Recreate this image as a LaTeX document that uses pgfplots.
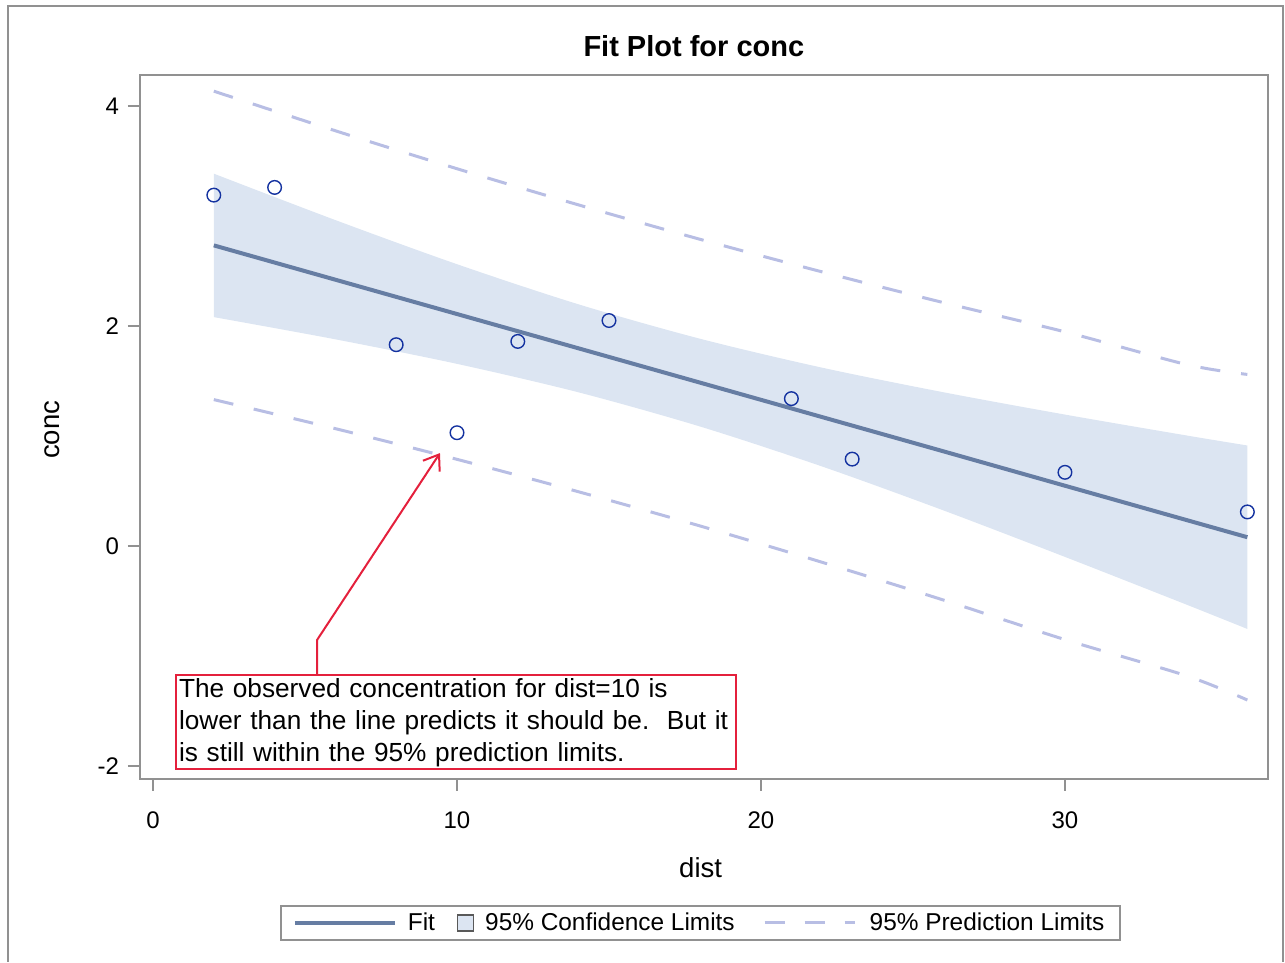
\documentclass[border=0pt]{standalone}
\usepackage{fontspec}
\setmainfont{Liberation Sans}
\usepackage{pgfplots}
\usepackage{pgfplotstable}
\pgfplotsset{compat=1.18}
\usepgfplotslibrary{fillbetween}
\usetikzlibrary{arrows.meta}

\definecolor{fitline}{RGB}{102,125,163}
\definecolor{cifill}{RGB}{220,229,242}
\definecolor{pidash}{RGB}{184,190,228}
\definecolor{obsmark}{RGB}{20,50,160}
\definecolor{note}{RGB}{228,32,60}
\definecolor{framegray}{RGB}{145,145,145}

% fit, confidence and prediction limits
\pgfplotstableread{
x  fit   cil    ciu   pil    piu
2  2.733 2.081  3.385 1.331  4.135
6  2.421 1.879  2.963 1.067  3.775
10 2.109 1.656  2.562 0.788  3.430
14 1.797 1.397  2.197 0.493  3.101
18 1.485 1.086  1.884 0.182  2.788
22 1.173 0.724  1.622 -0.147 2.493
26 0.861 0.324  1.398 -0.491 2.213
30 0.548 -0.099 1.195 -0.851 1.947
34 0.236 -0.533 1.005 -1.180 1.650
36 0.080 -0.754 0.914 -1.400 1.560
}\bands

\pgfplotstableread{
dist conc
2  3.19
4  3.26
8  1.83
10 1.03
12 1.86
15 2.05
21 1.34
23 0.79
30 0.67
36 0.31
}\obs

\begin{document}
\begin{tikzpicture}[x=1pt,y=1pt]
\path (0,0) rectangle (642.5,481);
\draw[framegray, line width=1pt] (4,0) -- (4,478) -- (641.5,478) -- (641.5,0);
\begin{axis}[
  at={(70pt,91.5pt)}, anchor=south west,
  scale only axis, width=564pt, height=352pt,
  xmin=-0.428, xmax=36.68, ymin=-2.118, ymax=4.282,
  xtick={0,10,20,30}, ytick={-2,0,2,4},
  xtick pos=bottom, ytick pos=left, tick align=outside,
  major tick length=6pt,
  axis line style={framegray, line width=1.1pt},
  tick style={framegray, line width=1pt},
  /pgf/number format/assume math mode=true,
  ticklabel style={font=\fontsize{12}{14}\selectfont},
  xticklabel style={yshift=-7pt},
  yticklabel style={xshift=-1pt},
  title={Fit Plot for conc},
  every axis title shift=0pt,
  title style={font=\bfseries\fontsize{14.5}{17}\selectfont, at={(0.491,1.041)}, anchor=center},
  xlabel={dist}, ylabel={conc},
  label style={font=\fontsize{13.75}{16}\selectfont},
  xlabel style={at={(0.497,-0.126)}, anchor=center},
  ylabel style={at={(-0.078,0.496)}, anchor=center},
  clip=false,
  legend columns=3,
  legend style={at={(0.497,-0.2045)}, anchor=center, draw=framegray, line width=1pt,
    font=\fontsize{12.2}{14}\selectfont, inner xsep=6pt, inner ysep=1.5pt,
    /tikz/every odd column/.append style={column sep=3.5pt},
    /tikz/every even column/.append style={column sep=9pt}},
]
\addplot[name path=ciu, draw=none, smooth, forget plot] table[x=x,y=ciu]{\bands};
\addplot[name path=cil, draw=none, smooth, forget plot] table[x=x,y=cil]{\bands};
\addplot[cifill, draw=none, forget plot] fill between[of=ciu and cil];
\addplot[fitline, line width=2pt, forget plot] table[x=x,y=fit]{\bands};
\addplot[pidash, line width=1.5pt, dash pattern=on 10pt off 10.5pt, smooth, forget plot] table[x=x,y=piu]{\bands};
\addplot[pidash, line width=1.5pt, dash pattern=on 10pt off 10.5pt, smooth, forget plot] table[x=x,y=pil]{\bands};
\addplot[only marks, mark=o, mark size=3.4pt, mark options={obsmark, line width=0.7pt}, forget plot] table[x=dist,y=conc]{\obs};

\addlegendimage{legend image code/.code={\draw[fitline, line width=2pt] (0pt,0pt) -- (50pt,0pt);}}
\addlegendentry{Fit}
\addlegendimage{legend image code/.code={\draw[fill=cifill, draw=black!65, line width=0.6pt] (0pt,-4pt) rectangle (8pt,4pt);}}
\addlegendentry{95\% Confidence Limits}
\addlegendimage{legend image code/.code={\path[draw=none, fill=none] (-4pt,0pt) -- (47pt,0pt);
  \draw[pidash, line width=1.5pt, dash pattern=on 10pt off 10pt] (0pt,0pt) -- (45pt,0pt);}}
\addlegendentry{95\% Prediction Limits\hspace{7pt}}

\draw[note, line width=1pt, -{Straight Barb[length=7pt,width=10pt]}]
  (5.395,-1.164) -- (5.395,-0.855) -- (9.44,0.845);
\node[draw=note, line width=1pt, fill=white, anchor=north west, inner xsep=1.5pt, inner ysep=1.5pt,
  text width=277pt, align=left, font=\fontsize{13.1}{16}\selectfont] at (0.724,-1.164)
  {The observed concentration for dist=10 is\\
   lower than the line predicts it should be.\ \ But it\\
   is still within the 95\% prediction limits.};
\end{axis}
\end{tikzpicture}
\end{document}
